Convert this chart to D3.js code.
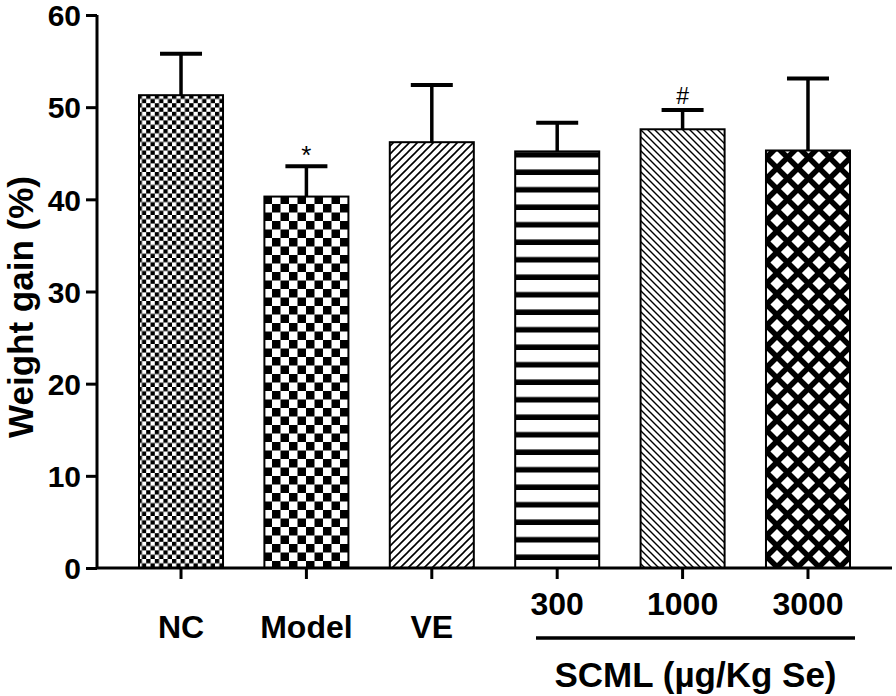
<!DOCTYPE html>
<html><head><meta charset="utf-8">
<script src="https://cdn.jsdelivr.net/npm/d3@7"></script>
<style>body{margin:0;background:#fff}svg{display:block}text{font-family:"Liberation Sans",Arial,sans-serif;font-weight:bold;fill:#000}</style>
</head><body>
<svg id="chart" width="896" height="696"></svg>
<script>
const categories = ["NC", "Model", "VE", "300", "1000", "3000"];
const means = [51.3, 40.3, 46.2, 45.2, 47.6, 45.3];
const errors = [4.5, 3.3, 6.2, 3.1, 2.1, 7.8];
const marks = ["", "*", "", "", "#", ""];
const patternIds = ["pNC", "pModel", "pVE", "p300", "p1000", "p3000"];
const yTickValues = [0, 10, 20, 30, 40, 50, 60];
const groupLabel = "SCML (µg/Kg Se)";
const yTitle = "Weight gain (%)";

const svg = d3.select("#chart");
const defs = svg.append("defs");

function pat(id, w, h) {
  const p = defs.append("pattern").attr("id", id).attr("patternUnits", "userSpaceOnUse")
    .attr("width", w).attr("height", h);
  p.append("rect").attr("width", w).attr("height", h).attr("fill", "#fff");
  return p;
}
{ const p = pat("pNC", 8.6, 8.6);
  p.append("rect").attr("x", 0).attr("y", 0).attr("width", 4.3).attr("height", 4.3).attr("fill", "#000");
  p.append("rect").attr("x", 4.3).attr("y", 4.3).attr("width", 4.3).attr("height", 4.3).attr("fill", "#000"); }
{ const p = pat("pModel", 17, 17);
  p.append("rect").attr("x", 0).attr("y", 0).attr("width", 8.5).attr("height", 8.5).attr("fill", "#000");
  p.append("rect").attr("x", 8.5).attr("y", 8.5).attr("width", 8.5).attr("height", 8.5).attr("fill", "#000"); }
{ const p = pat("pVE", 8, 8);
  p.append("path").attr("d", "M-2,2 L2,-2 M0,8 L8,0 M6,10 L10,6").attr("stroke", "#000").attr("stroke-width", 1.6); }
{ const p = pat("p300", 10, 17.5);
  p.append("rect").attr("x", 0).attr("y", 12).attr("width", 10).attr("height", 5.5).attr("fill", "#000"); }
{ const p = pat("p1000", 7, 7);
  p.append("path").attr("d", "M-2,5 L2,9 M0,0 L7,7 M5,-2 L9,2").attr("stroke", "#000").attr("stroke-width", 1.4); }
{ const p = pat("p3000", 21, 21);
  p.append("path").attr("d", "M-5.25,5.25 L5.25,-5.25 M0,21 L21,0 M15.75,26.25 L26.25,15.75 M-5.25,15.75 L5.25,26.25 M0,0 L21,21 M15.75,-5.25 L26.25,5.25")
    .attr("stroke", "#000").attr("stroke-width", 5.5); }

const x = d3.scaleBand().domain(categories).range([97, 892]).paddingInner(0.33).paddingOuter(0.335);
const y = d3.scaleLinear().domain([0, 60]).range([568, 15]);

svg.append("g").selectAll("rect").data(categories).join("rect")
  .attr("x", d => x(d)).attr("width", x.bandwidth())
  .attr("y", (d, i) => y(means[i])).attr("height", (d, i) => y(0) - y(means[i]))
  .attr("fill", (d, i) => `url(#${patternIds[i]})`)
  .attr("stroke", "#000").attr("stroke-width", 2);

const eb = svg.append("g");
categories.forEach((c, i) => {
  const cx = x(c) + x.bandwidth() / 2;
  eb.append("line").attr("x1", cx).attr("x2", cx).attr("y1", y(means[i])).attr("y2", y(means[i] + errors[i]))
    .attr("stroke", "#000").attr("stroke-width", 3.5);
  eb.append("line").attr("x1", cx - 21).attr("x2", cx + 21).attr("y1", y(means[i] + errors[i])).attr("y2", y(means[i] + errors[i]))
    .attr("stroke", "#000").attr("stroke-width", 4);
  if (marks[i]) {
    eb.append("text").attr("x", cx).attr("y", y(means[i] + errors[i]) - (marks[i] === "*" ? 2 : 6))
      .attr("text-anchor", "middle").style("font-weight", "normal").style("font-size", marks[i] === "*" ? "26px" : "23px")
      .text(marks[i]);
  }
});

const yAxis = svg.append("g").attr("transform", "translate(97,0)")
  .call(d3.axisLeft(y).tickValues(yTickValues).tickSize(11).tickPadding(5).tickFormat(d3.format("d")));
yAxis.select(".domain").attr("d", `M0,${y(60)}V${y(0)}`).attr("stroke-width", 3);
yAxis.selectAll(".tick line").attr("stroke-width", 3);
yAxis.selectAll("text").style("font-size", "30px").attr("dy", "0.36em");

const xAxis = svg.append("g").attr("transform", "translate(0,568)")
  .call(d3.axisBottom(x).tickSize(11).tickFormat(""));
xAxis.select(".domain").attr("d", "M97,0H892").attr("stroke-width", 3);
xAxis.selectAll(".tick line").attr("stroke-width", 3);

const lowLabels = ["NC", "Model", "VE"];
svg.append("g").selectAll("text").data(categories).join("text")
  .attr("x", d => x(d) + x.bandwidth() / 2)
  .attr("y", d => lowLabels.includes(d) ? 638 : 615)
  .attr("text-anchor", "middle").style("font-size", "32px")
  .text(d => d);

svg.append("line").attr("x1", 536).attr("x2", 855).attr("y1", 638).attr("y2", 638)
  .attr("stroke", "#000").attr("stroke-width", 3.5);
svg.append("text").attr("x", (536 + 855) / 2).attr("y", 687).attr("text-anchor", "middle")
  .style("font-size", "35px").text(groupLabel);

svg.append("text").attr("transform", "translate(33,307) rotate(-90)").attr("text-anchor", "middle")
  .style("font-size", "35px").text(yTitle);
</script>
</body></html>
